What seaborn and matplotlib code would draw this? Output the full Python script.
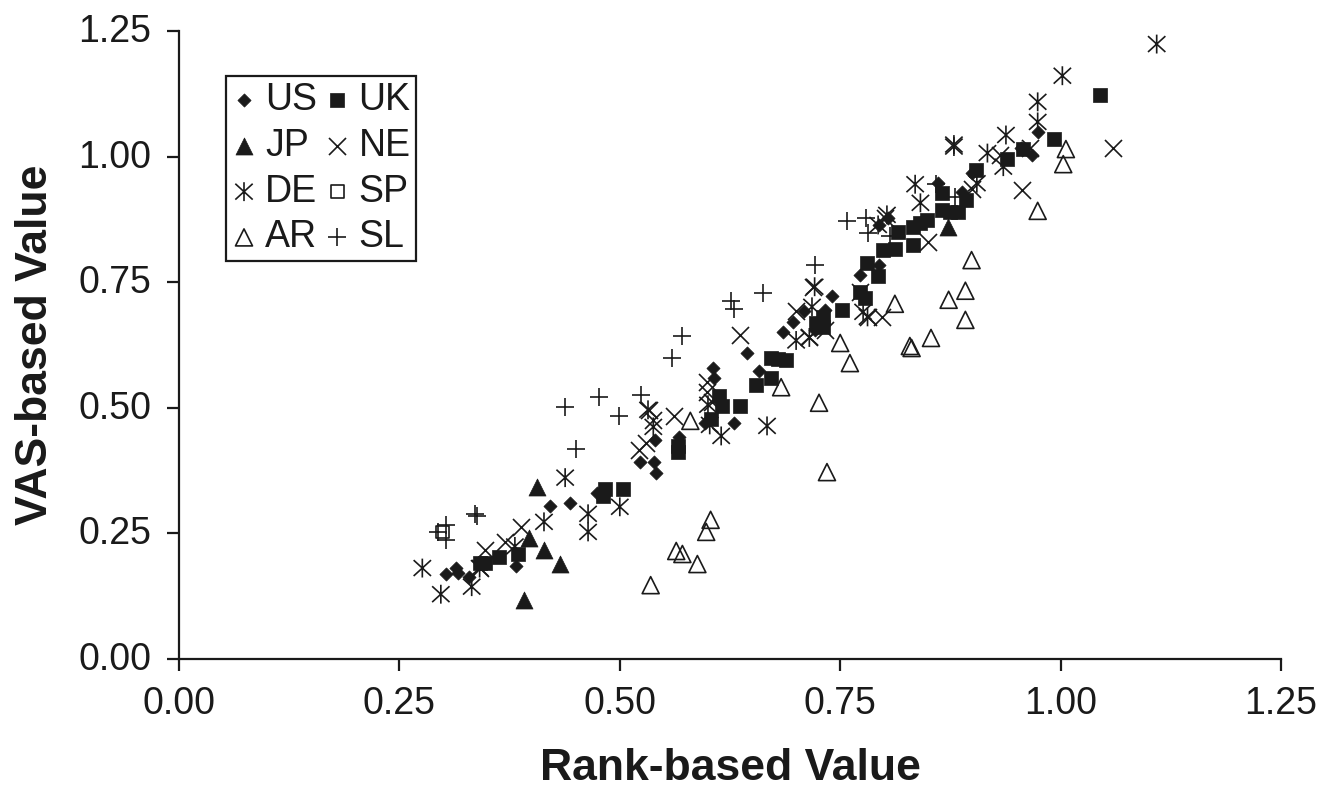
import matplotlib
matplotlib.use("Agg")
import matplotlib.pyplot as plt
from matplotlib.path import Path
from matplotlib.transforms import ScaledTranslation
import seaborn as sns

sns.set_theme(style="white")
plt.rcParams['font.family'] = ['Liberation Sans', 'DejaVu Sans']
plt.rcParams['text.color'] = 'k'

us_x = [.303,.314,.317,.329,.382,.421,.444,.474,.523,.539,.541,.540,.567,.606,.607,.630,.597,.658,.644,.685,.697,.709,.741,.733,.727,.721,.772,.794,.794,.804,.861,.899,.888,.974,.968,.955]
us_y = [.170,.181,.171,.163,.186,.305,.310,.330,.393,.393,.371,.436,.442,.579,.559,.470,.470,.573,.610,.651,.671,.693,.723,.695,.675,.655,.764,.784,.864,.878,.947,.967,.930,1.048,1.003,1.018]

uk_x = [.347,.341,.363,.384,.483,.481,.504,.566,.566,.654,.672,.672,.689,.680,.752,.723,.731,.731,.772,.778,.780,.793,.799,.812,.816,.833,.833,.841,.848,.865,.884,.875,.866,.893,.904,.939,.957,.993,1.045,.636,.616,.613,.603]
uk_y = [.192,.191,.204,.209,.338,.324,.338,.413,.423,.545,.560,.599,.596,.597,.695,.668,.660,.680,.730,.719,.788,.762,.814,.817,.849,.824,.860,.868,.874,.894,.890,.890,.928,.914,.973,.995,1.015,1.035,1.123,.503,.503,.523,.477]

jp_x = [.406,.397,.414,.432,.391,.872]
jp_y = [.343,.241,.216,.189,.117,.860]

ne_x = [.347,.370,.388,.341,.522,.530,.538,.533,.561,.599,.636,.715,.700,.719,.782,.797,.850,.900,.599,.605,.956,1.060,.965,.931,.801,.733,.772]
ne_y = [.217,.233,.263,.181,.416,.429,.476,.496,.484,.552,.645,.640,.693,.741,.681,.681,.831,.935,.532,.512,.934,1.017,1.017,1.003,.878,.655,.731]

de_x = [.276,.297,.332,.341,.414,.438,.464,.464,.500,.532,.538,.381,.700,.715,.721,.718,.776,.781,.803,.793,.835,.841,.905,.667,.615,.879,.879,.935,.938,.917,.974,.974,1.002,1.109,.602,.600]
de_y = [.181,.129,.144,.181,.273,.361,.289,.253,.303,.496,.462,.224,.634,.640,.741,.701,.691,.681,.884,.864,.945,.908,.947,.464,.444,1.020,1.024,.980,1.043,1.007,1.109,1.069,1.161,1.224,.466,.506]

sp_x = [.299]
sp_y = [.253]

ar_x = [.535,.564,.571,.588,.598,.603,.580,.683,.726,.735,.750,.761,.812,.829,.831,.853,.873,.892,.892,.899,.974,1.003,1.006]
ar_y = [.147,.215,.209,.189,.253,.277,.474,.541,.510,.372,.629,.589,.707,.623,.619,.639,.715,.733,.675,.794,.892,.985,1.015]

sl_x = [.303,.303,.294,.336,.338,.450,.438,.476,.499,.524,.559,.571,.626,.629,.662,.721,.758,.779,.782,.806,.859,.880]
sl_y = [.267,.237,.253,.288,.285,.418,.501,.521,.484,.525,.599,.643,.713,.696,.728,.784,.872,.877,.847,.841,.945,.920]

ticks = [0.00, 0.25, 0.50, 0.75, 1.00, 1.25]

# x with a vertical stroke through it: the reference's asterisk glyph
asterisk = Path([(-.46, -.42), (.46, .42), (-.46, .42), (.46, -.42), (0, -.5), (0, .5)],
                [Path.MOVETO, Path.LINETO, Path.MOVETO, Path.LINETO, Path.MOVETO, Path.LINETO])

fig = plt.figure(figsize=(13.37, 7.87), dpi=100)
ax = fig.add_axes([179/1337, (787-659)/787, 1102/1337, 628/787])

sns.scatterplot(x=us_x, y=us_y, marker='D', s=45, color='k', edgecolor='k', linewidth=0.5, label='US', ax=ax)
sns.scatterplot(x=uk_x, y=uk_y, marker='s', s=105, color='k', edgecolor='k', linewidth=0.5, label='UK', ax=ax)
sns.scatterplot(x=jp_x, y=jp_y, marker='^', s=150, color='k', edgecolor='k', linewidth=0.5, label='JP', ax=ax)
sns.scatterplot(x=ne_x, y=ne_y, marker='x', s=150, color='#1a1a1a', linewidth=1.2, label='NE', ax=ax)
sns.scatterplot(x=de_x, y=de_y, marker=asterisk, s=185, facecolor='none', edgecolor='#1a1a1a', linewidth=1.2, label='DE', ax=ax)
sns.scatterplot(x=sp_x, y=sp_y, marker='s', s=80, facecolor='none', edgecolor='#1a1a1a', linewidth=1.2, label='SP', ax=ax)
sns.scatterplot(x=ar_x, y=ar_y, marker='^', s=150, facecolor='none', edgecolor='#1a1a1a', linewidth=1.2, label='AR', ax=ax)
sns.scatterplot(x=sl_x, y=sl_y, marker='+', s=165, color='#1a1a1a', linewidth=1.2, label='SL', ax=ax)

ax.set_xlim(0, 1.25)
ax.set_ylim(0, 1.25)
ax.set_xticks(ticks)
ax.set_yticks(ticks)
ax.set_xticklabels([f"{t:.2f}" for t in ticks])
ax.set_yticklabels([f"{t:.2f}" for t in ticks])
ax.tick_params(axis='both', which='major', direction='out', length=8.6, width=1.6, color='k',
               labelsize=27, labelcolor='k', bottom=True, left=True)
ax.tick_params(axis='x', pad=10.5)
ax.tick_params(axis='y', pad=11.5)
up = ScaledTranslation(0, 3/100, fig.dpi_scale_trans)
for lab in ax.get_yticklabels():
    lab.set_transform(lab.get_transform() + up)
sns.despine(ax=ax)
for side in ('left', 'bottom'):
    ax.spines[side].set_color('k')
    ax.spines[side].set_linewidth(1.6)

ax.set_xlabel("Rank-based Value", fontsize=32, fontweight='bold', color='k', labelpad=19)
ax.set_ylabel("VAS-based Value", fontsize=32, fontweight='bold', color='k', labelpad=16)

handles, labels = ax.get_legend_handles_labels()
order = ['US', 'JP', 'DE', 'AR', 'UK', 'NE', 'SP', 'SL']
lookup = dict(zip(labels, handles))
leg = ax.legend([lookup[k] for k in order], order, ncol=2, loc='upper left',
                bbox_to_anchor=(47/1102, (659-76)/628), borderaxespad=0,
                fontsize=27, frameon=True, fancybox=False, edgecolor='k', framealpha=1,
                labelspacing=0.26, handletextpad=0.24, columnspacing=0.22, borderpad=0.16,
                handlelength=0.64, scatterpoints=1)
leg.get_frame().set_linewidth(1.6)

fig.savefig("out.png", dpi=100, facecolor='white')
